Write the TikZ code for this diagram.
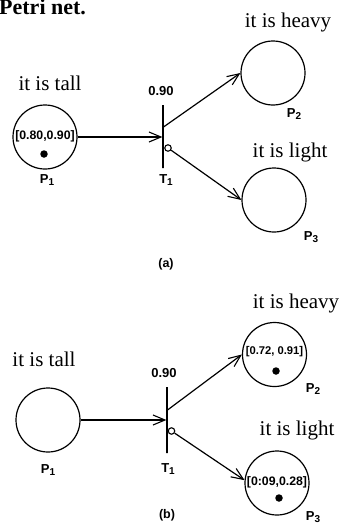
\documentclass[tikz,border=0pt]{standalone}
\usepackage{fontspec}
\setmainfont{Liberation Serif}
\setsansfont{Liberation Sans}
\usetikzlibrary{arrows.meta}
\newcommand{\sub}[1]{\raisebox{-0.35ex}{\fontsize{10}{11}\selectfont #1}}
\begin{document}
\begin{tikzpicture}[x=1pt,y=-1pt,
  place/.style={circle,draw,line width=1.2pt,minimum size=64pt,inner sep=0pt},
  tbar/.style={draw,line width=1.2pt,minimum width=0pt,inner sep=0pt,minimum height=#1},
  inhib/.style={circle,draw,line width=1.1pt,minimum size=6.5pt,inner sep=0pt},
  token/.style={circle,fill,minimum size=7.5pt,inner sep=0pt},
  marking/.style={font=\sffamily\bfseries\fontsize{12.3}{14}\selectfont,inner sep=0pt},
  lab/.style={font=\sffamily\bfseries\fontsize{13}{15}\selectfont,anchor=base,inner sep=0pt},
  phrase/.style={font=\fontsize{21}{24}\selectfont,anchor=base,inner sep=0pt},
  arcline/.style={line width=1.2pt,-{Straight Barb[length=12pt,width=10pt,line width=1.1pt]}}]
\useasboundingbox (0,0) rectangle (342,525);
% caption fragment
\node[font=\bfseries\fontsize{22}{24}\selectfont,anchor=base west,inner sep=0pt] (title) at (-1,14) {Petri net.};
% ---------- (a) ----------
\node[place] (p1a) at (45,137) {};
\node[marking] (m1a) at (45,136) {[0.80,0.90]};
\node[token] (k1a) at (44,154) {};
\node[tbar=63pt] (ta) at (163,136.5) {};
\node[place] (p2a) at (273,73) {};
\node[place] (p3a) at (274,200) {};
\coordinate (taup) at (163.5,127);
\node[inhib] (ia) at (168,148) {};
\draw[arcline] (p1a.east) -- (ta.west |- p1a.east);
\draw[arcline] (taup) -- (p2a.west);
\draw[arcline] (ia) -- (p3a.west);
\node[phrase] (lt1) at (50,90) {it is tall};
\node[phrase] (lh1) at (288,27) {it is heavy};
\node[phrase] (ll1) at (290,157) {it is light};
\node[lab] (w1) at (161,95) {0.90};
\node[lab] (n1a) at (47,183) {P\sub{1}};
\node[lab] (tn1) at (166,183) {T\sub{1}};
\node[lab] (n2a) at (294,117) {P\sub{2}};
\node[lab] (n3a) at (311,240) {P\sub{3}};
\node[lab,font=\sffamily\bfseries\fontsize{12.5}{14}\selectfont] (ca) at (166,267) {(a)};
% ---------- (b) ----------
\node[place] (p1b) at (48,420) {};
\node[tbar=66pt] (tb) at (167,420) {};
\node[place] (p2b) at (274.5,354.5) {};
\node[place] (p3b) at (277,483) {};
\coordinate (tbup) at (167.5,410);
\node[inhib] (ib) at (171.5,431) {};
\draw[arcline] (p1b.east) -- (tb.west |- p1b.east);
\draw[arcline] (tbup) -- (p2b.west);
\draw[arcline] (ib) -- (p3b.175);
\node[marking,font=\sffamily\bfseries\fontsize{11.2}{13}\selectfont] (m2b) at (274.5,352) {[0.72, 0.91]};
\node[token] (k2b) at (276,371) {};
\node[marking] (m3b) at (277,482) {[0:09,0.28]};
\node[token] (k3b) at (279,498) {};
\node[phrase] (lt2) at (44,366) {it is tall};
\node[phrase] (lh2) at (296,308) {it is heavy};
\node[phrase] (ll2) at (297,435) {it is light};
\node[lab] (w2) at (164,377) {0.90};
\node[lab] (n1b) at (48,473) {P\sub{1}};
\node[lab] (tn2) at (168,472) {T\sub{1}};
\node[lab] (n2b) at (313,392) {P\sub{2}};
\node[lab] (n3b) at (313,520) {P\sub{3}};
\node[lab,font=\sffamily\bfseries\fontsize{12.5}{14}\selectfont] (cb) at (167,518) {(b)};
\end{tikzpicture}
\end{document}
